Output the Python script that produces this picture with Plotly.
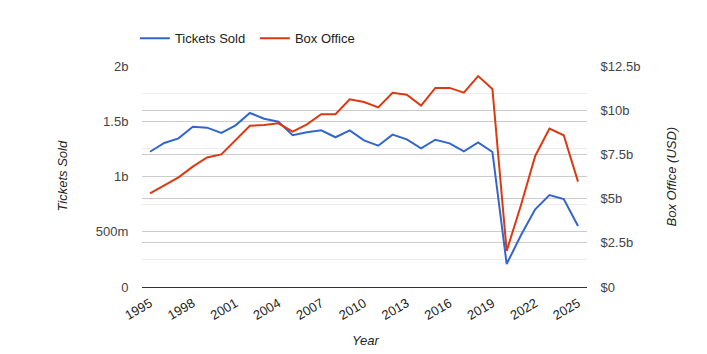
import plotly.graph_objects as go

years = list(range(1995, 2026))
tickets_sold = [1.224e9, 1.303e9, 1.345e9, 1.451e9, 1.442e9, 1.394e9, 1.463e9, 1.575e9,
                1.523e9, 1.496e9, 1.373e9, 1.400e9, 1.418e9, 1.355e9, 1.418e9, 1.327e9,
                1.279e9, 1.379e9, 1.336e9, 1.255e9, 1.333e9, 1.300e9, 1.228e9, 1.309e9,
                1.222e9, 0.208e9, 0.468e9, 0.703e9, 0.832e9, 0.795e9, 0.552e9]
box_office = [5.30e9, 5.77e9, 6.20e9, 6.81e9, 7.33e9, 7.50e9, 8.31e9, 9.12e9,
              9.16e9, 9.26e9, 8.79e9, 9.20e9, 9.77e9, 9.77e9, 10.62e9, 10.46e9,
              10.16e9, 10.99e9, 10.88e9, 10.26e9, 11.26e9, 11.26e9, 10.99e9, 11.93e9,
              11.20e9, 2.04e9, 4.62e9, 7.41e9, 8.96e9, 8.58e9, 5.96e9]

x_tickvals = list(range(1995, 2026, 3))
left_tickvals = [0, 0.5e9, 1e9, 1.5e9, 2e9]
left_ticktext = ["0", "500m", "1b", "1.5b", "2b"]
right_tickvals = [0, 2.5e9, 5e9, 7.5e9, 10e9, 12.5e9]
right_ticktext = ["$0", "$2.5b", "$5b", "$7.5b", "$10b", "$12.5b"]

FONT = "Liberation Sans, Arial, sans-serif"
BLUE = "#3366cc"
RED = "#dc3912"

fig = go.Figure()
fig.add_trace(go.Scatter(x=years, y=tickets_sold, name="Tickets Sold", mode="lines",
                         line=dict(color=BLUE, width=2), yaxis="y"))
fig.add_trace(go.Scatter(x=years, y=box_office, name="Box Office", mode="lines",
                         line=dict(color=RED, width=2), yaxis="y2"))

W, H = 707, 354
L, R, T, B = 142, 120, 66, 67

fig.update_layout(
    width=W, height=H,
    margin=dict(l=L, r=R, t=T, b=B, pad=0),
    paper_bgcolor="white", plot_bgcolor="white",
    font=dict(family=FONT, size=13, color="#444"),
    showlegend=True,
    legend=dict(orientation="h", x=-0.016, xanchor="left", y=1.125, yanchor="middle",
                font=dict(size=13, color="#222"), bgcolor="rgba(0,0,0,0)",
                traceorder="normal", entrywidth=75, entrywidthmode="pixels"),
    xaxis=dict(range=[1994.44, 2025.63], tickvals=x_tickvals, tickangle=-30,
               showgrid=False, zeroline=False, showline=True, linecolor="#333",
               linewidth=1, ticks="outside", ticklen=3, tickcolor="rgba(0,0,0,0)",
               tickfont=dict(size=13, color="#222")),
    yaxis=dict(range=[0, 2e9], tickvals=left_tickvals, ticktext=left_ticktext,
               showgrid=True, gridcolor="#cccccc", gridwidth=1, zeroline=False,
               ticks="outside", ticklen=10, tickcolor="rgba(0,0,0,0)",
               tickfont=dict(size=13, color="#444"),
               minor=dict(tickvals=[0.25e9, 0.75e9, 1.25e9, 1.75e9], showgrid=True,
                          gridcolor="#ebebeb", gridwidth=1)),
    yaxis2=dict(range=[0, 12.5e9], tickvals=right_tickvals, ticktext=right_ticktext,
                overlaying="y", side="right", showgrid=True, gridcolor="#cccccc",
                gridwidth=1, zeroline=False, ticks="outside", ticklen=10,
                tickcolor="rgba(0,0,0,0)", tickfont=dict(size=13, color="#444")),
    annotations=[
        dict(text="<i>Tickets Sold</i>", xref="paper", yref="paper",
             x=-(L - 62) / (W - L - R), y=0.5, textangle=-90, showarrow=False,
             xanchor="center", yanchor="middle", font=dict(size=13, color="#222")),
        dict(text="<i>Box Office (USD)</i>", xref="paper", yref="paper",
             x=1 + (671 - (W - R)) / (W - L - R), y=0.5, textangle=-90, showarrow=False,
             xanchor="center", yanchor="middle", font=dict(size=13, color="#222")),
        dict(text="<i>Year</i>", xref="paper", yref="paper",
             x=(365 - L) / (W - L - R), y=-(340 - (H - B)) / (H - T - B),
             showarrow=False, xanchor="center", yanchor="middle",
             font=dict(size=13, color="#222")),
    ],
)

fig.write_html("out.html")
